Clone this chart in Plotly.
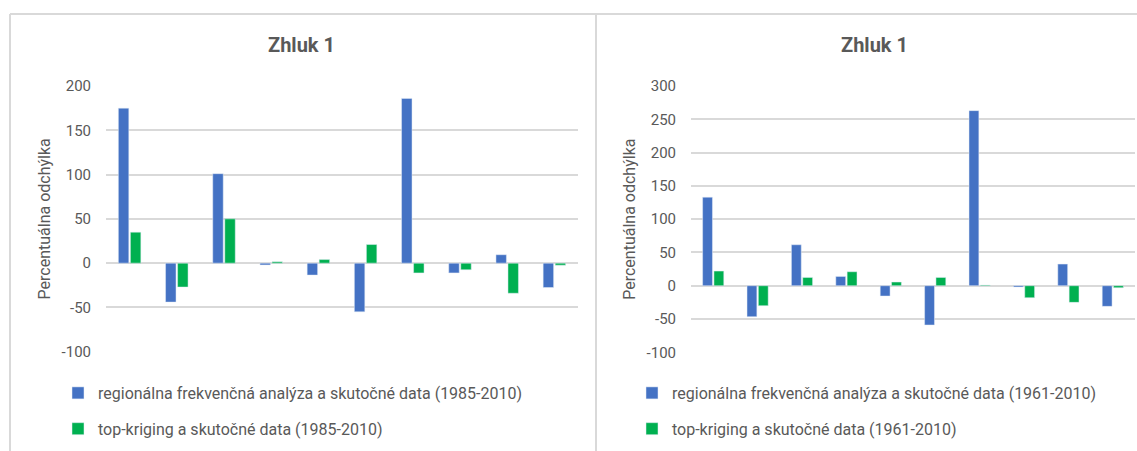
import plotly.graph_objects as go

# Cluster 1: percentage deviation per station
stations = [1, 2, 3, 4, 5, 6, 7, 8, 9, 10]

rfa_1985 = [175, -44, 101, -2, -13.5, -55, 186, -11, 9.5, -27.5]
tk_1985 = [35, -27, 50, 1.5, 4, 21, -11, -7.5, -34, -2.3]

rfa_1961 = [133, -46.5, 61.5, 14, -15.5, -59, 263, -2, 32.5, -31]
tk_1961 = [22, -30, 12.5, 21, 5.5, 12.5, 1, -18, -25, -3]

y_ticks_left = [-100, -50, 0, 50, 100, 150, 200]
y_ticks_right = [-100, -50, 0, 50, 100, 150, 200, 250, 300]

title_text = "Zhluk 1"
y_title = "Percentuálna odchýlka"
names_left = ["regionálna frekvenčná analýza a skutočné data (1985-2010)",
              "top-kriging a skutočné data (1985-2010)"]
names_right = ["regionálna frekvenčná analýza a skutočné data (1961-2010)",
               "top-kriging a skutočné data (1961-2010)"]

BLUE = "#4472C4"
GREEN = "#00B050"
GRID = "#D9D9D9"
TEXT = "#595959"
FONT = "Roboto, Liberation Sans, sans-serif"

W, H = 1137, 451


def px(x):
    return x / W


def py(y):
    return 1 - y / H


fig = go.Figure()

fig.add_bar(x=stations, y=rfa_1985, name=names_left[0], marker_color=BLUE,
            xaxis="x", yaxis="y", legend="legend", legendgroup="a")
fig.add_bar(x=stations, y=tk_1985, name=names_left[1], marker_color=GREEN,
            xaxis="x", yaxis="y", legend="legend", legendgroup="b")
fig.add_bar(x=stations, y=rfa_1961, name=names_right[0], marker_color=BLUE,
            xaxis="x2", yaxis="y2", legend="legend2", legendgroup="c")
fig.add_bar(x=stations, y=tk_1961, name=names_right[1], marker_color=GREEN,
            xaxis="x2", yaxis="y2", legend="legend2", legendgroup="d")

xaxis_common = dict(range=[0.5, 10.5], showticklabels=False, showgrid=False,
                    zeroline=False, showline=False, ticks="", fixedrange=True)
yaxis_common = dict(showgrid=True, gridcolor=GRID, gridwidth=1.5,
                    zeroline=True, zerolinecolor=GRID, zerolinewidth=1.5,
                    showline=False, ticks="", ticklabelstandoff=14,
                    tickfont=dict(family=FONT, size=15, color=TEXT),
                    title=dict(text=y_title, font=dict(family=FONT, size=16, color=TEXT),
                               standoff=6))

legend_common = dict(orientation="v", bgcolor="rgba(0,0,0,0)",
                     font=dict(family=FONT, size=16, color=TEXT),
                     tracegroupgap=12, itemwidth=30,
                     xanchor="left", yanchor="top", traceorder="grouped")

fig.update_layout(
    width=W, height=H, autosize=False,
    margin=dict(l=0, r=0, t=0, b=0, autoexpand=False),
    paper_bgcolor="white", plot_bgcolor="white",
    barmode="group", bargap=0.49, bargroupgap=0.13,
    xaxis=dict(domain=[px(106), px(578)], anchor="y", **xaxis_common),
    yaxis=dict(domain=[py(351.7), py(86)], range=[-100, 200], tickvals=y_ticks_left,
               ticktext=[str(v) for v in y_ticks_left], anchor="x", **yaxis_common),
    xaxis2=dict(domain=[px(691), px(1135)], anchor="y2", **xaxis_common),
    yaxis2=dict(domain=[py(352.3), py(86)], range=[-100, 300], tickvals=y_ticks_right,
                ticktext=[str(v) for v in y_ticks_right], anchor="x2", **yaxis_common),
    legend=dict(x=px(58), y=py(376), **legend_common),
    legend2=dict(x=px(632), y=py(376), **legend_common),
    showlegend=True,
)

# chart titles
for cx in (301.5, 874):
    fig.add_annotation(text=f"<b>{title_text}</b>", x=px(cx), y=py(45),
                       xref="paper", yref="paper", showarrow=False,
                       xanchor="center", yanchor="middle",
                       font=dict(family=FONT, size=20, color=TEXT))

# chart-area frames
frame = dict(type="line", xref="paper", yref="paper", line=dict(color=GRID, width=2))
fig.add_shape(x0=px(10), x1=1, y0=py(14), y1=py(14), **frame)
fig.add_shape(x0=px(10), x1=px(10), y0=py(14), y1=0, **frame)
fig.add_shape(x0=px(596), x1=px(596), y0=py(14), y1=0, **frame)

fig.write_html("out.html")
